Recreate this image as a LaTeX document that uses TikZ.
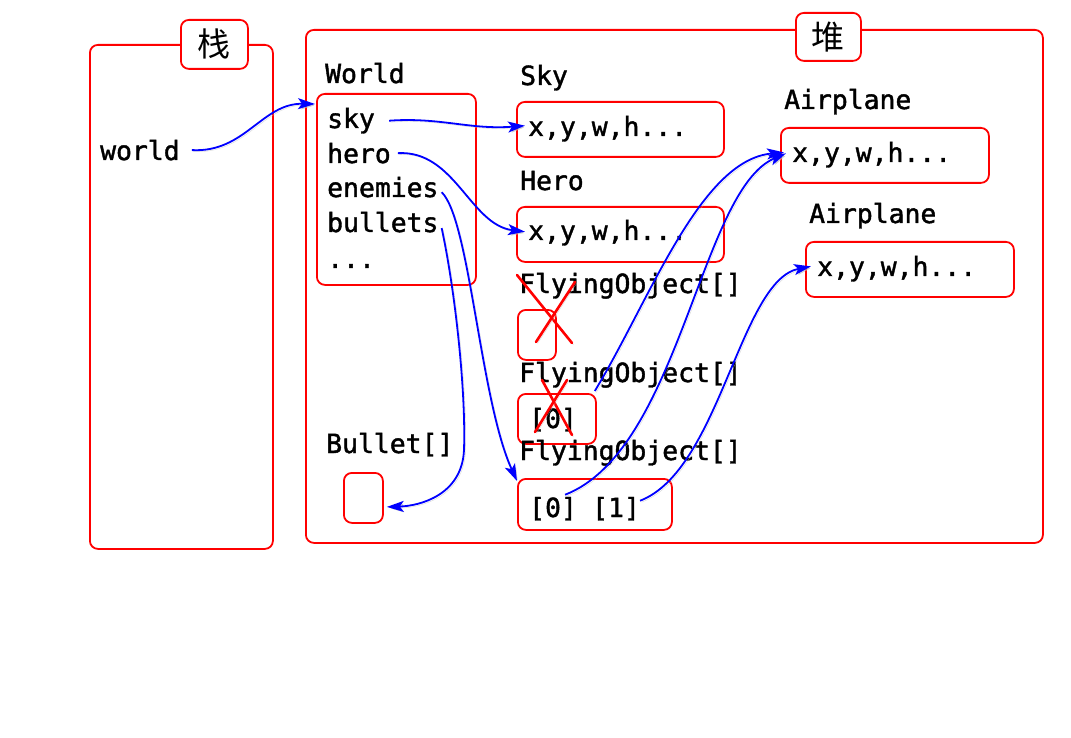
\documentclass[tikz,border=0pt]{standalone}
\usepackage{fontspec}
\setmonofont{DejaVu Sans Mono}[FakeBold=1.5]
\newfontfamily\cjkfont{Noto Sans CJK SC}
\usetikzlibrary{arrows.meta}
\begin{document}
\begin{tikzpicture}[x=1pt,y=-1pt,
  redbox/.style={draw=red, line width=1.8pt, rounded corners=8pt, inner sep=0pt, anchor=north west},
  txt/.style={font=\ttfamily\fontsize{26.4}{26.4}\selectfont, anchor=base west, inner sep=0pt},
  cjk/.style={font=\cjkfont\fontsize{33}{33}\selectfont, inner sep=0pt},
  link/.style={draw=blue, line width=1.8pt, -{Stealth[length=17pt,width=11pt,inset=4pt]},
    preaction={draw=black!25, opacity=0.6, transform canvas={shift={(1.5pt,-1.5pt)}}}},
  cross/.style={draw=red, line width=2.6pt, line cap=round,
    preaction={draw=black!25, opacity=0.6, transform canvas={shift={(1.5pt,-1.5pt)}}}}
]
\useasboundingbox[fill=white] (0,0) rectangle (1071,738);

% stack
\node[redbox, minimum width=183pt, minimum height=504pt] (stack) at (89,44) {};
\node[redbox, fill=white, minimum width=67pt, minimum height=49pt] (stacklbl) at (180,19) {};
\node[cjk] (stacktxt) at (stacklbl.center) {栈};
\node[txt] (world) at (100,160) {world};

% heap
\node[redbox, minimum width=737pt, minimum height=513pt] (heap) at (305,29) {};
\node[redbox, fill=white, minimum width=65pt, minimum height=48pt] (heaplbl) at (795,12) {};
\node[cjk] (heaptxt) at (heaplbl.center) {堆};

% World object
\node[txt] (worldlbl) at (325,83) {World};
\node[redbox, minimum width=159pt, minimum height=191pt] (worldbox) at (316,93) {};
\node[txt] (skyt) at (327,128) {sky};
\node[txt] (herot) at (327,163) {hero};
\node[txt] (enemt) at (327,197) {enemies};
\node[txt] (bullt) at (327,232) {bullets};
\node[txt] (dots) at (327,268) {...};

% Sky / Hero
\node[txt] (skylbl) at (520,85) {Sky};
\node[redbox, minimum width=207pt, minimum height=55pt] (skybox) at (516,101) {};
\node[txt] (skyv) at (528,136) {x,y,w,h...};
\node[txt] (herolbl) at (520,190) {Hero};
\node[redbox, minimum width=207pt, minimum height=55pt] (herobox) at (516,206) {};
\node[txt] (herov) at (528,240) {x,y,w,h...};

% Airplanes
\node[txt] (air1lbl) at (784,109) {Airplane};
\node[redbox, minimum width=208pt, minimum height=55pt] (air1box) at (780,127) {};
\node[txt] (air1v) at (792,162) {x,y,w,h...};
\node[txt] (air2lbl) at (809,223) {Airplane};
\node[redbox, minimum width=208pt, minimum height=55pt] (air2box) at (805,241) {};
\node[txt] (air2v) at (817,276) {x,y,w,h...};

% FlyingObject arrays
\node[txt] (fo1lbl) at (519,293) {FlyingObject[]};
\node[redbox, minimum width=38pt, minimum height=50pt] (fo1box) at (517,309) {};
\node[txt] (fo2lbl) at (519,382) {FlyingObject[]};
\node[redbox, minimum width=78pt, minimum height=50pt] (fo2box) at (517,393) {};
\node[txt] (fo2a) at (529,428) {[0]};
\node[txt] (fo3lbl) at (519,460) {FlyingObject[]};
\node[redbox, minimum width=154pt, minimum height=51pt] (fo3box) at (517,478) {};
\node[txt] (fo3a) at (529,517) {[0]};
\node[txt] (fo3b) at (592,517) {[1]};

% Bullet array
\node[txt] (bullbl) at (326,453) {Bullet[]};
\node[redbox, minimum width=39pt, minimum height=50pt] (bulbox) at (343,472) {};

% crosses
\draw[cross] (517,275) -- (572,343);
\draw[cross] (575,282) -- (536,342);
\draw[cross] (542,380) -- (572,435);
\draw[cross] (567,380) -- (535,432);

% links
\draw[link] ([xshift=12pt]world.east) .. controls (245,153) and (262,103) .. ([xshift=-1pt,yshift=-11pt]worldbox.north west);
\draw[link] ([xshift=14pt]skyt.east) .. controls (440,117) and (470,130) .. ([xshift=-3pt,yshift=3pt]skyv.west);
\draw[link] ([xshift=7pt]herot.east) .. controls (455,150) and (470,225) .. ([xshift=-3pt,yshift=1pt]herov.west);
\draw[link] ([shift={(3pt,-5pt)}]enemt.east) .. controls (470,220) and (480,400) .. ([yshift=-3pt]fo3box.north west);
\draw[link] ([shift={(3pt,-6pt)}]bullt.east) .. controls (455,290) and (466,390) .. (464,450)
  .. controls (462,495) and (420,506) .. ([shift={(3pt,-9pt)}]bulbox.east);
\draw[link] ([shift={(-2pt,2pt)}]fo2box.north east) .. controls (650,300) and (700,160) .. ([shift={(4pt,3pt)}]air1box.west);
\draw[link] ([shift={(-12pt,2pt)}]fo3a.north east) .. controls (680,450) and (700,190) .. ([shift={(6pt,2pt)}]air1box.west);
\draw[link] ([yshift=8pt]fo3b.east) .. controls (720,470) and (740,280) .. ([shift={(6pt,3pt)}]air2box.west);
\end{tikzpicture}
\end{document}
